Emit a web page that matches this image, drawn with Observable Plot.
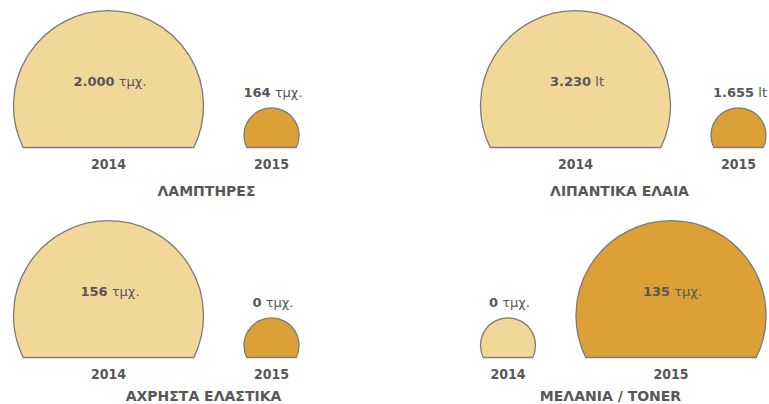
<!DOCTYPE html>
<html>
<head>
<meta charset="utf-8">
<script src="https://cdn.jsdelivr.net/npm/d3@7"></script>
<script src="https://cdn.jsdelivr.net/npm/@observablehq/plot@0.6"></script>
<style>
  html, body { margin: 0; padding: 0; background: #ffffff; }
  #chart svg { display: block; }
  #chart svg .num { font-weight: bold; }
  #chart svg .unit { font-weight: normal; }
</style>
</head>
<body>
<div id="chart"></div>
<script>
// ---- data ----
const categories = ["ΛΑΜΠΤΗΡΕΣ", "ΛΙΠΑΝΤΙΚΑ ΕΛΑΙΑ", "ΑΧΡΗΣΤΑ ΕΛΑΣΤΙΚΑ", "ΜΕΛΑΝΙΑ / TONER"];
const years = ["2014", "2015"];
const values2014 = [2000, 3230, 156, 0];
const values2015 = [164, 1655, 0, 135];
const units = ["τμχ.", "lt", "τμχ.", "τμχ."];

// ---- layout ----
const panelLeft = [13, 480];
const baselineY = [147, 357];
const titleX = [206, 619, 203, 610];
const titleOffset = [44, 39];
const bigR = 95, smallR = 27.5, gap = 40.5, cut = 0.44;
const textColor = "#575757";

const fmt = d3.formatLocale({decimal: ",", thousands: ".", grouping: [3], currency: ["", "€"]}).format(",");

// dome symbol: circle cut flat at the bottom, origin at the centre of the flat base
const dome = {
  draw(context, size) {
    const r = Math.sqrt(size / Math.PI);
    const d = cut * r;
    const w = Math.sqrt(r * r - d * d);
    const a = Math.asin(d / r);
    context.moveTo(-w, 0);
    context.arc(0, -d, r, Math.PI - a, 2 * Math.PI + a);
    context.closePath();
  }
};

const rows = [];
const panels = [];
categories.forEach((cat, i) => {
  const col = i % 2, row = Math.floor(i / 2);
  const vals = [values2014[i], values2015[i]];
  const maxV = Math.max(...vals);
  let left = panelLeft[col];
  const base = baselineY[row];
  vals.forEach((v, j) => {
    const big = v === maxV;
    const r = big ? bigR : smallR;
    rows.push({
      category: cat, year: years[j], value: v, unit: units[i], big,
      x: left + r, base,
      labelY: big ? base - 65.5 : base - 54.5,
      label: fmt(v) + " " + units[i]
    });
    left += 2 * r + gap;
  });
  panels.push({category: cat, x: titleX[i], y: base + titleOffset[row]});
});

const chart = Plot.plot({
  width: 769,
  height: 404,
  margin: 0,
  x: {type: "identity", axis: null},
  y: {type: "identity", axis: null},
  color: {domain: years, range: ["#F2D898", "#DCA037"]},
  marks: [
    Plot.dot(rows.filter(d => d.big), {x: "x", y: "base", r: bigR, symbol: dome, fill: "year", stroke: "#7b7b7b", strokeWidth: 1.3}),
    Plot.dot(rows.filter(d => !d.big), {x: "x", y: "base", r: smallR, symbol: dome, fill: "year", stroke: "#7b7b7b", strokeWidth: 1.3}),
    Plot.text(rows, {x: "x", y: "labelY", text: "label", dx: 1.5, fill: textColor, fontSize: 13, fontFamily: "DejaVu Sans"}),
    Plot.text(rows, {x: "x", y: d => d.base + 17, text: "year", fill: textColor, fontSize: 14, fontWeight: "bold", fontFamily: "DejaVu Sans Condensed"}),
    Plot.text(panels, {x: "x", y: "y", text: "category", fill: textColor, fontSize: 14, fontWeight: "bold", fontFamily: "DejaVu Sans"})
  ]
});

// bold number, regular unit
const labelSet = new Set(rows.map(d => d.label));
d3.select(chart).selectAll("text").each(function () {
  const t = d3.select(this);
  const s = t.text();
  if (!labelSet.has(s)) return;
  const k = s.indexOf(" ");
  t.text(null);
  t.append("tspan").attr("class", "num").attr("font-weight", "bold").text(s.slice(0, k));
  t.append("tspan").attr("class", "unit").attr("font-weight", "normal").text(s.slice(k));
});

document.getElementById("chart").appendChild(chart);
</script>
</body>
</html>
